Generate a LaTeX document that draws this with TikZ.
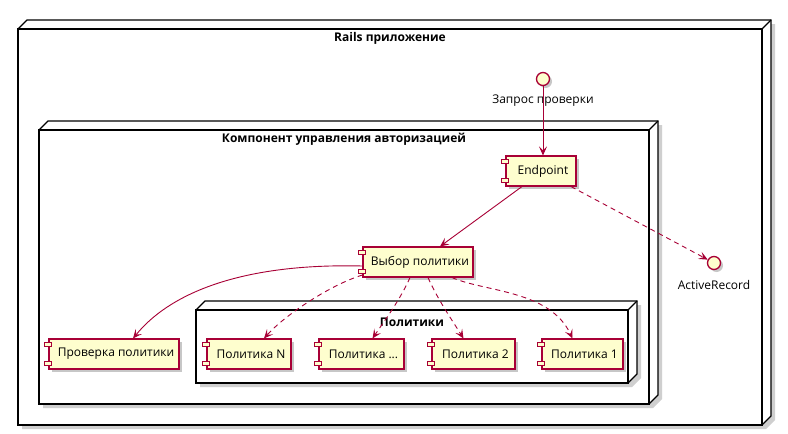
\documentclass[tikz,border=0pt]{standalone}
\usepackage{fontspec}
\setmainfont{Open Sans}
\usetikzlibrary{arrows.meta,shadows,calc}
\definecolor{umlfill}{HTML}{FEFECE}
\definecolor{umlline}{HTML}{A80036}
\definecolor{shadowgray}{HTML}{CFCFCF}
\newcommand\umlnodebox[5]{% x1 y1 x2 y2 depth
  \fill[shadowgray] ({#1+4},{#2-#5+4}) -- ({#3+#5+4},{#2-#5+4}) -- ({#3+#5+4},{#4-#5+4}) -- ({#3+4},{#4+4}) -- ({#1+4},{#4+4}) -- cycle;
  \filldraw[boxline] (#1,#2) -- ({#1+#5},{#2-#5}) -- ({#3+#5},{#2-#5}) -- ({#3+#5},{#4-#5}) -- (#3,#4) -- (#1,#4) -- cycle;
  \draw[boxline] (#1,#2) rectangle (#3,#4);
  \draw[boxline] (#3,#2) -- ({#3+#5},{#2-#5});
}
\tikzset{
  x=1pt, y=-1pt,
  boxline/.style={draw=black, fill=white, line width=1.3pt, line join=miter},
  boxtitle/.style={font=\bfseries\fontsize{12}{14}\selectfont, inner sep=0},
  comp/.style={draw=umlline, fill=umlfill, line width=1.1pt, minimum height=30pt, inner sep=0,
    font=\fontsize{12}{14}\selectfont,
    drop shadow={shadow xshift=3pt,shadow yshift=-3pt,fill=black,opacity=0.22}},
  iface/.style={circle, draw=umlline, fill=umlfill, line width=1.3pt, minimum size=13pt, inner sep=0,
    drop shadow={shadow xshift=2.5pt,shadow yshift=-2.5pt,fill=black,opacity=0.22}},
  ilabel/.style={font=\fontsize{12}{14}\selectfont, inner sep=0},
  icon/.style={draw=umlline, fill=umlfill, line width=1pt},
  conn/.style={draw=umlline, line width=0.9pt, -{Stealth[length=9pt,width=8pt,inset=4pt]}},
  dconn/.style={conn, dash pattern=on 5pt off 4pt},
}
\begin{document}
\begin{tikzpicture}
\useasboundingbox (0,0) rectangle (788,434);
% containers
\umlnodebox{18}{29}{762}{425}{9}
\node[boxtitle] (trails) at (390,38) {Rails приложение};
\umlnodebox{39}{130}{649}{404}{9}
\node[boxtitle] (tcomp) at (344,139) {Компонент управления авторизацией};
\umlnodebox{196}{310}{628}{383}{9}
\node[boxtitle] (tpol) at (412,322) {Политики};

% interfaces
\node[iface] (q) at (543,79) {};
\node[ilabel] (ql) at (543,101) {Запрос проверки};
\node[iface] (ar) at (714,263) {};
\node[ilabel] (arl) at (714,285) {ActiveRecord};

% components
\node[comp, minimum width=70pt] (ep) at (541,171) {\hspace{4pt}Endpoint};
\node[comp, minimum width=110pt] (sel) at (418,262) {\hspace{4pt}Выбор политики};
\node[comp, minimum width=130pt] (chk) at (114,354) {\hspace{4pt}Проверка политики};
\node[comp, minimum width=84pt] (polN) at (249,354) {\hspace{4pt}Политика N};
\node[comp, minimum width=85pt] (polX) at (361.5,354) {\hspace{4pt}Политика ...};
\node[comp, minimum width=83pt] (pol2) at (473.5,354) {\hspace{4pt}Политика 2};
\node[comp, minimum width=81pt] (pol1) at (582.5,354) {\hspace{4pt}Политика 1};
\foreach \n in {ep,sel,chk,polN,polX,pol2,pol1}{
  \draw[icon] ([xshift=-3.5pt,yshift=-4pt]\n.north west) rectangle ++(7,4);
  \draw[icon] ([xshift=-3.5pt,yshift=4pt]\n.south west) rectangle ++(7,-4);
}

% connectors
\draw[conn] (q.south) -- (q.south |- ep.north);
\draw[conn] ([xshift=-19pt]ep.south) -- ([xshift=22pt]sel.north);
\draw[dconn] ([xshift=30pt]ep.south) -- (ar);
\draw[conn] ([yshift=-4pt]sel.west) .. controls (200,262) and (150,318) .. ([xshift=19pt]chk.north);
\draw[dconn] ([yshift=-13pt]sel.west) .. controls (330,285) and (285,315) .. ([xshift=15pt]polN.north);
\draw[dconn] ([xshift=-8pt]sel.south) .. controls (400,300) and (385,320) .. ([xshift=11pt]polX.north);
\draw[dconn] ([xshift=10pt]sel.south) .. controls (438,300) and (452,320) .. ([xshift=-10pt]pol2.north);
\draw[dconn] ([xshift=34pt]sel.south) .. controls (485,292) and (550,290) .. ([xshift=-10pt]pol1.north);
\end{tikzpicture}
\end{document}
